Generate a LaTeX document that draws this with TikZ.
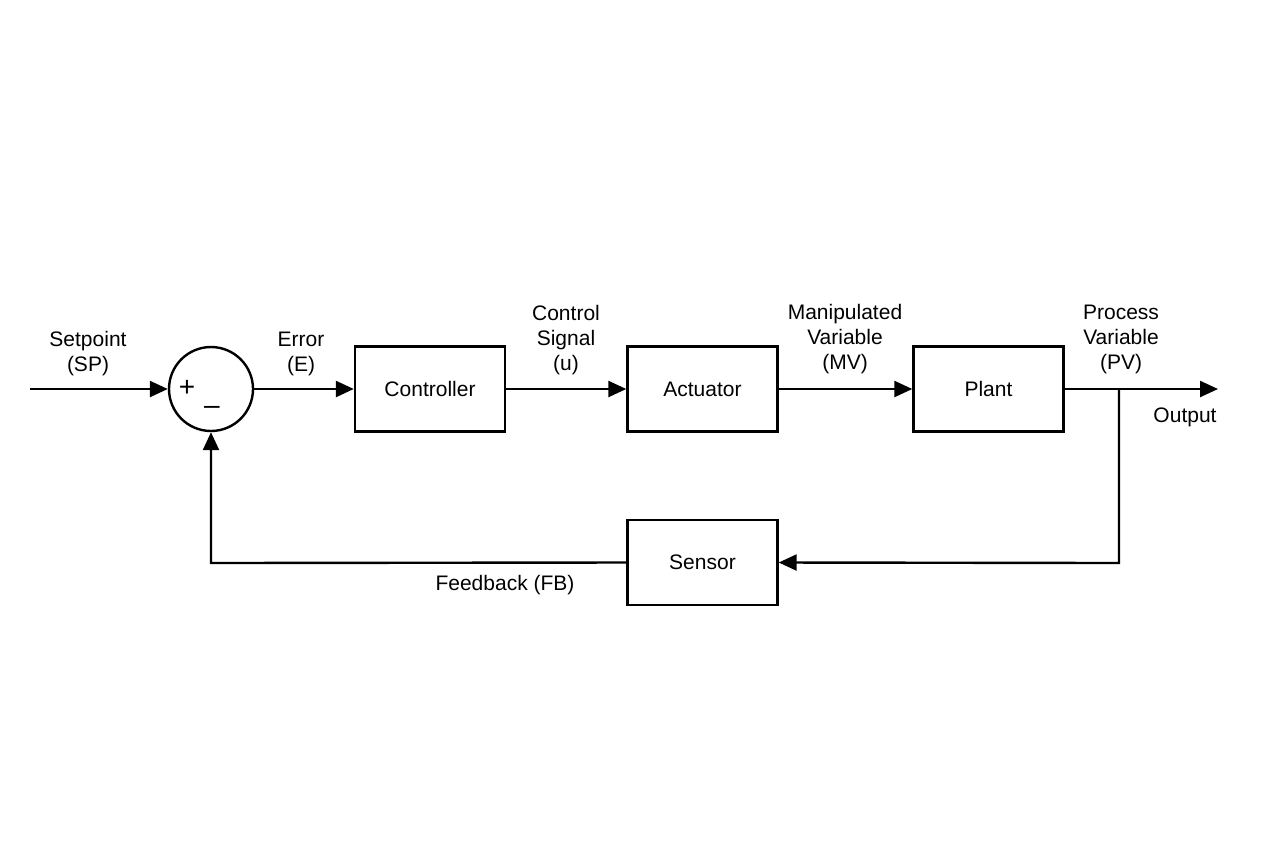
\documentclass[tikz,border=0pt]{standalone}
\usepackage{fontspec}
\setmainfont{Liberation Sans}
\usetikzlibrary{arrows.meta}
\begin{document}
\begin{tikzpicture}[x=0.5pt,y=-0.5pt,
  blk/.style={draw,line width=1.2pt,minimum width=75pt,minimum height=42.5pt,inner sep=0pt},
  lbl/.style={align=center,font=\fontsize{10.5}{12.5}\selectfont},
  ar/.style={line width=1.2pt,-{Triangle[length=9pt,width=8pt]}},
  ln/.style={line width=1.2pt},
  every node/.style={font=\fontsize{10.5}{12.5}\selectfont}]
\useasboundingbox (0,0) rectangle (1264,848);
\coordinate (in) at (30,389);
\node[draw,circle,line width=1.2pt,minimum size=42pt,inner sep=0pt] (sum) at (211,389) {};
\node at (187,388) {\fontsize{14}{14}\selectfont +};
\node at (212,410) {\fontsize{14}{14}\selectfont --};
\node[blk] (ctrl) at (430,389) {Controller};
\node[blk] (act) at (702.5,389) {Actuator};
\node[blk] (plant) at (988.5,389) {Plant};
\node[blk] (sens) at (702.5,562.5) {Sensor};
\coordinate (out) at (1218,389);
\coordinate (tap) at (1119,389);
\coordinate (tapd) at (1119,563);
\coordinate (fbc) at (211,563);
\draw[ar] (in) -- (sum.west);
\draw[ar] (sum.east) -- (ctrl.west);
\draw[ar] (ctrl.east) -- (act.west);
\draw[ar] (act.east) -- (plant.west);
\draw[ar] (plant.east) -- (out);
\draw[ar] (tap) -- (tapd) -- (sens.east);
\draw[ar] (sens.west) -- (fbc) -- (sum.south);
\node[lbl] at (88,354) {Setpoint\\(SP)};
\node[lbl] at (301,354) {Error\\(E)};
\node[lbl] at (566,340) {Control\\Signal\\(u)};
\node[lbl] at (845,339) {Manipulated\\Variable\\(MV)};
\node[lbl] at (1121,339) {Process\\Variable\\(PV)};
\node[lbl] at (1185,417) {Output};
\node[lbl] at (505,585) {Feedback (FB)};
\end{tikzpicture}
\end{document}
